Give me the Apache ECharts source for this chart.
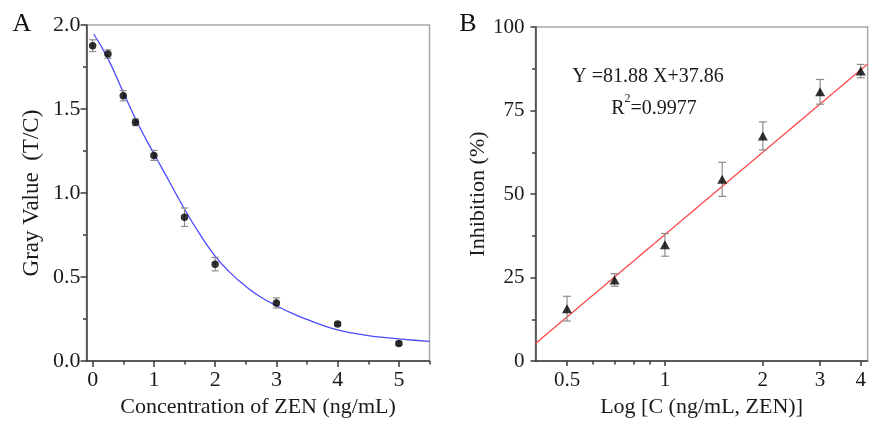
<!DOCTYPE html>
<html><head><meta charset="utf-8">
<script src="https://cdn.jsdelivr.net/npm/echarts@6/dist/echarts.min.js"></script>
<style>html,body{margin:0;padding:0;background:#fff}#c{width:869px;height:423px}</style>
</head><body><div id="c"></div>
<script>
// ---- Panel A data ----
const concA = [0, 0.25, 0.5, 0.7, 1, 1.5, 2, 3, 4, 5];
const grayA = [1.877, 1.827, 1.579, 1.421, 1.224, 0.856, 0.577, 0.346, 0.221, 0.104];
const grayErrA = [0.035, 0.025, 0.03, 0.02, 0.03, 0.055, 0.04, 0.03, 0.01, 0.01];
const curveXA = [0.02, 0.25, 0.5, 0.75, 1, 1.25, 1.5, 1.75, 2, 2.25, 2.5, 2.75, 3, 3.25, 3.5, 3.75, 4, 4.25, 4.5, 4.75, 5, 5.25, 5.5];
const curveYA = [1.945, 1.80, 1.60, 1.405, 1.235, 1.07, 0.905, 0.755, 0.625, 0.525, 0.445, 0.38, 0.33, 0.285, 0.248, 0.214, 0.186, 0.166, 0.151, 0.141, 0.132, 0.124, 0.117];
const xTicksA = [0, 1, 2, 3, 4, 5];
const xMinorA = [0.5, 1.5, 2.5, 3.5, 4.5, 5.5];

// ---- Panel B data ----
const concB = [0.5, 0.7, 1, 1.5, 2, 3, 4];
const inhibB = [15.7, 24.3, 34.8, 54.4, 67.4, 80.6, 86.8];
const inhibErrB = [3.7, 1.9, 3.4, 5.1, 4.2, 3.7, 2.0];
const fitCB = [0.4, 4.2];
const fitYB = [5.3, 88.9];
const xLabelsB = [0.5, 1, 2, 3, 4];
const xMinorB = [0.6, 0.7, 0.8, 0.9];

const FONT = 'Liberation Serif';
const AX = '#3a3a3a';
const lg = v => Math.log10(v);

function errSeries(xi, yi, data, capW) {
  return {
    type: 'custom', xAxisIndex: xi, yAxisIndex: yi, data: data, z: 2,
    encode: {x: 0, y: 1},
    renderItem: function (params, api) {
      const x = api.value(0), y = api.value(1), e = api.value(2);
      const t = api.coord([x, y + e]), b = api.coord([x, y - e]);
      const st = {stroke: '#8c8c8c', lineWidth: 1.2, fill: null};
      return {type: 'group', children: [
        {type: 'line', shape: {x1: t[0], y1: t[1], x2: b[0], y2: b[1]}, style: st},
        {type: 'line', shape: {x1: t[0] - capW, y1: t[1], x2: t[0] + capW, y2: t[1]}, style: st},
        {type: 'line', shape: {x1: b[0] - capW, y1: b[1], x2: b[0] + capW, y2: b[1]}, style: st}
      ]};
    }
  };
}

const chart = echarts.init(document.getElementById('c'), null, {renderer: 'canvas'});
const lblStyle = {fontFamily: FONT, color: '#1a1a1a'};
const option = {
  animation: false,
  backgroundColor: '#fff',
  grid: [
    {left: 86.5, top: 25, width: 343, height: 341, show: true, borderColor: '#a8a8a8', borderWidth: 1.5},
    {left: 535.5, top: 27, width: 335, height: 340.5, show: true, borderColor: '#a8a8a8', borderWidth: 1.5}
  ],
  xAxis: [
    {type: 'value', gridIndex: 0, min: -0.1, max: 5.5, position: 'bottom',
     name: 'Concentration of ZEN (ng/mL)', nameLocation: 'middle', nameGap: 34,
     nameTextStyle: {fontFamily: FONT, fontSize: 22, color: '#1a1a1a'},
     axisLine: {onZero: false, lineStyle: {color: AX, width: 1.5}},
     axisTick: {customValues: xTicksA, length: 6, lineStyle: {color: AX, width: 1.5}},
     axisLabel: Object.assign({customValues: xTicksA, fontSize: 22, margin: 8}, lblStyle),
     splitLine: {show: false}},
    {type: 'value', gridIndex: 0, min: -0.1, max: 5.5, position: 'bottom',
     axisLine: {show: false, onZero: false},
     axisTick: {customValues: xMinorA, length: 3.5, lineStyle: {color: AX, width: 1.5}},
     axisLabel: {show: false}, splitLine: {show: false}},
    {type: 'value', gridIndex: 1, min: lg(0.4), max: lg(4.2), position: 'bottom',
     name: 'Log [C (ng/mL, ZEN)]', nameLocation: 'middle', nameGap: 34,
     nameTextStyle: {fontFamily: FONT, fontSize: 22, color: '#1a1a1a'},
     axisLine: {onZero: false, lineStyle: {color: AX, width: 1.5}},
     axisTick: {customValues: xLabelsB.map(lg), length: 5, lineStyle: {color: AX, width: 1.5}},
     axisLabel: Object.assign({customValues: xLabelsB.map(lg), fontSize: 21, margin: 9,
       formatter: v => String(Math.round(Math.pow(10, v) * 10) / 10)}, lblStyle),
     splitLine: {show: false}},
    {type: 'value', gridIndex: 1, min: lg(0.4), max: lg(4.2), position: 'bottom',
     axisLine: {show: false, onZero: false},
     axisTick: {customValues: xMinorB.map(lg), length: 3.5, lineStyle: {color: AX, width: 1.5}},
     axisLabel: {show: false}, splitLine: {show: false}}
  ],
  yAxis: [
    {type: 'value', gridIndex: 0, min: 0, max: 2, interval: 0.5,
     name: 'Gray Value  (T/C)', nameLocation: 'middle', nameGap: 43,
     nameTextStyle: {fontFamily: FONT, fontSize: 23, color: '#1a1a1a'},
     axisLine: {show: true, onZero: false, lineStyle: {color: AX, width: 1.5}},
     axisTick: {show: true, length: 6, lineStyle: {color: AX, width: 1.5}},
     minorTick: {show: true, splitNumber: 2, length: 3.5, lineStyle: {color: AX, width: 1.5}},
     axisLabel: Object.assign({fontSize: 22, margin: 6, formatter: v => v.toFixed(1)}, lblStyle),
     splitLine: {show: false}},
    {type: 'value', gridIndex: 1, min: 0, max: 100, interval: 25,
     name: 'Inhibition (%)', nameLocation: 'middle', nameGap: 43,
     nameTextStyle: {fontFamily: FONT, fontSize: 22, color: '#1a1a1a'},
     axisLine: {show: true, onZero: false, lineStyle: {color: AX, width: 1.5}},
     axisTick: {show: true, length: 5, lineStyle: {color: AX, width: 1.5}},
     minorTick: {show: true, splitNumber: 2, length: 3.5, lineStyle: {color: AX, width: 1.5}},
     axisLabel: Object.assign({fontSize: 21, margin: 11}, lblStyle),
     splitLine: {show: false}}
  ],
  series: [
    {type: 'line', xAxisIndex: 0, yAxisIndex: 0, smooth: 0.5, showSymbol: false, z: 1,
     lineStyle: {color: '#4a4aff', width: 1.3},
     data: curveXA.map((x, i) => [x, curveYA[i]])},
    errSeries(0, 0, concA.map((x, i) => [x, grayA[i], grayErrA[i]]), 3.5),
    {type: 'scatter', xAxisIndex: 0, yAxisIndex: 0, symbol: 'circle', symbolSize: 7.5, z: 3,
     itemStyle: {color: '#000'}, data: concA.map((x, i) => [x, grayA[i]])},
    {type: 'line', xAxisIndex: 2, yAxisIndex: 1, showSymbol: false, z: 1,
     lineStyle: {color: '#ff4a4a', width: 1.3},
     data: fitCB.map((c, i) => [lg(c), fitYB[i]])},
    errSeries(2, 1, concB.map((c, i) => [lg(c), inhibB[i], inhibErrB[i]]), 4),
    {type: 'scatter', xAxisIndex: 2, yAxisIndex: 1, symbol: 'triangle', symbolSize: [10, 9], z: 3,
     itemStyle: {color: '#000'}, data: concB.map((c, i) => [lg(c), inhibB[i]])}
  ],
  graphic: [
    {type: 'text', x: 22, y: 24, style: {text: 'A', font: '26px "Liberation Serif"', fill: '#111', align: 'center', verticalAlign: 'middle'}},
    {type: 'text', x: 468, y: 24, style: {text: 'B', font: '26px "Liberation Serif"', fill: '#111', align: 'center', verticalAlign: 'middle'}},
    {type: 'text', x: 648, y: 77, style: {text: 'Y =81.88 X+37.86', font: '20px "Liberation Serif"', fill: '#1a1a1a', align: 'center', verticalAlign: 'middle'}},
    {type: 'text', x: 654, y: 106, style: {text: '{b|R}{s|2}{b|=0.9977}', align: 'center', verticalAlign: 'middle',
      rich: {b: {fontFamily: FONT, fontSize: 20, lineHeight: 26, fill: '#1a1a1a', verticalAlign: 'bottom'},
             s: {fontFamily: FONT, fontSize: 12, lineHeight: 26, fill: '#1a1a1a', verticalAlign: 'top'}}}}
  ]
};
chart.setOption(option);
</script></body></html>
